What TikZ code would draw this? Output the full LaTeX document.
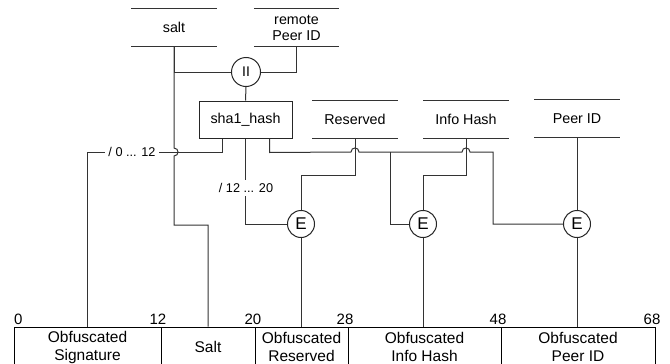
\documentclass[tikz,border=0pt]{standalone}
\usepackage{fontspec}
\setmainfont{Liberation Sans}
\begin{document}
\begin{tikzpicture}[x=1pt,y=-1pt,
  ln/.style={draw=black!80, line width=1pt},
  store/.style={minimum width=85pt, minimum height=37pt, inner sep=0pt, align=center, font=\fontsize{14.3}{16}\selectfont},
  procbox/.style={draw=black!85, line width=1pt, minimum width=93pt, minimum height=37pt, inner sep=0pt, font=\fontsize{14.3}{16}\selectfont},
  op/.style={circle, draw=black!85, line width=1pt, minimum size=27pt, inner sep=0pt, font=\fontsize{17}{17}\selectfont},
  field/.style={draw=black, line width=1pt, minimum height=40pt, inner sep=0pt, align=center, font=\fontsize{15.5}{18}\selectfont},
  num/.style={anchor=south, inner sep=0pt, font=\fontsize{15}{15}\selectfont},
  bits/.style={fill=white, inner sep=3pt, font=\fontsize{12.7}{13}\selectfont}]
\useasboundingbox (0,0) rectangle (670,364);
\clip (0,0) rectangle (670,364);

% data stores
\node[store] (salt) at (174,27.5) {salt};
\node[store] (rpid) at (296.5,27.5) {remote\\Peer ID};
\node[store] (res) at (355,119.5) {Reserved};
\node[store] (ih) at (466,119.5) {Info Hash};
\node[store] (pid) at (577,118.5) {Peer ID};
\foreach \n in {salt,rpid,res,ih,pid}
  \draw[ln] (\n.north west) -- (\n.north east) (\n.south west) -- (\n.south east);

% operations
\node[op, minimum size=29pt, font=\fontsize{14}{14}\selectfont] (cat) at (246,72) {II};
\node[procbox] (sha) at (245.5,119.5) {sha1\_hash};
\node[op] (e1) at (301,224) {E};
\node[op] (e2) at (423,224) {E};
\node[op] (e3) at (577,224) {E};

% output fields
\node[field, minimum width=147pt] (f1) at (87.5,347) {Obfuscated\\Signature};
\node[field, minimum width=94pt] (f2) at (208,347) {Salt};
\node[field, minimum width=93pt] (f3) at (301.5,347) {Obfuscated\\Reserved};
\node[field, minimum width=153pt] (f4) at (424.5,347) {Obfuscated\\Info Hash};
\node[field, minimum width=154pt] (f5) at (578,347) {Obfuscated\\Peer ID};

\node[num, anchor=south west] (n0) at (14,325) {0};
\node[num] (n12) at (158,325) {12};
\node[num] (n20) at (253,325) {20};
\node[num] (n28) at (345,325) {28};
\node[num] (n48) at (498,325) {48};
\node[num] (n68) at (652,325) {68};

% connectors
\draw[ln] (salt.south) |- (cat.west);
\draw[ln] (rpid.south) |- (cat.east);
\draw[ln] (cat.south) -- (sha.north);
\draw[ln] (salt.south) -- (174,148) .. controls (179.33,148) and (179.33,156) .. (174,156) -- (174,225) -| (f2.north);

\draw[ln] ([xshift=24pt]sha.south west) -- ++(0,14) -| (f1.north);
\node[bits] (l1) at (132,152) {/ 0 ... 12};

\draw[ln] (sha.south) |- (e1.west);
\node[bits] (l2) at (246,188) {/ 12 ... 20};

\coordinate (br1) at (390,152);
\coordinate (br2) at (493,152);
\draw[ln] ([xshift=-23pt]sha.south east) -- ++(0,14) -- (351,152)
  .. controls (351,146.67) and (359,146.67) .. (359,152) -- (462,152)
  .. controls (462,146.67) and (470,146.67) .. (470,152) -- (br2) |- (e3.west);
\draw[ln] (br1) |- (e2.west);

\draw[ln] (res.south) -- ++(0,37) -| (e1.north);
\draw[ln] (ih.south) -- ++(0,37) -| (e2.north);
\draw[ln] (pid.south) -- (e3.north);

\draw[ln] (e1.south) -- (e1.south |- f3.north);
\draw[ln] (e2.south) -- (e2.south |- f4.north);
\draw[ln] (e3.south) -- (e3.south |- f5.north);
\end{tikzpicture}
\end{document}
